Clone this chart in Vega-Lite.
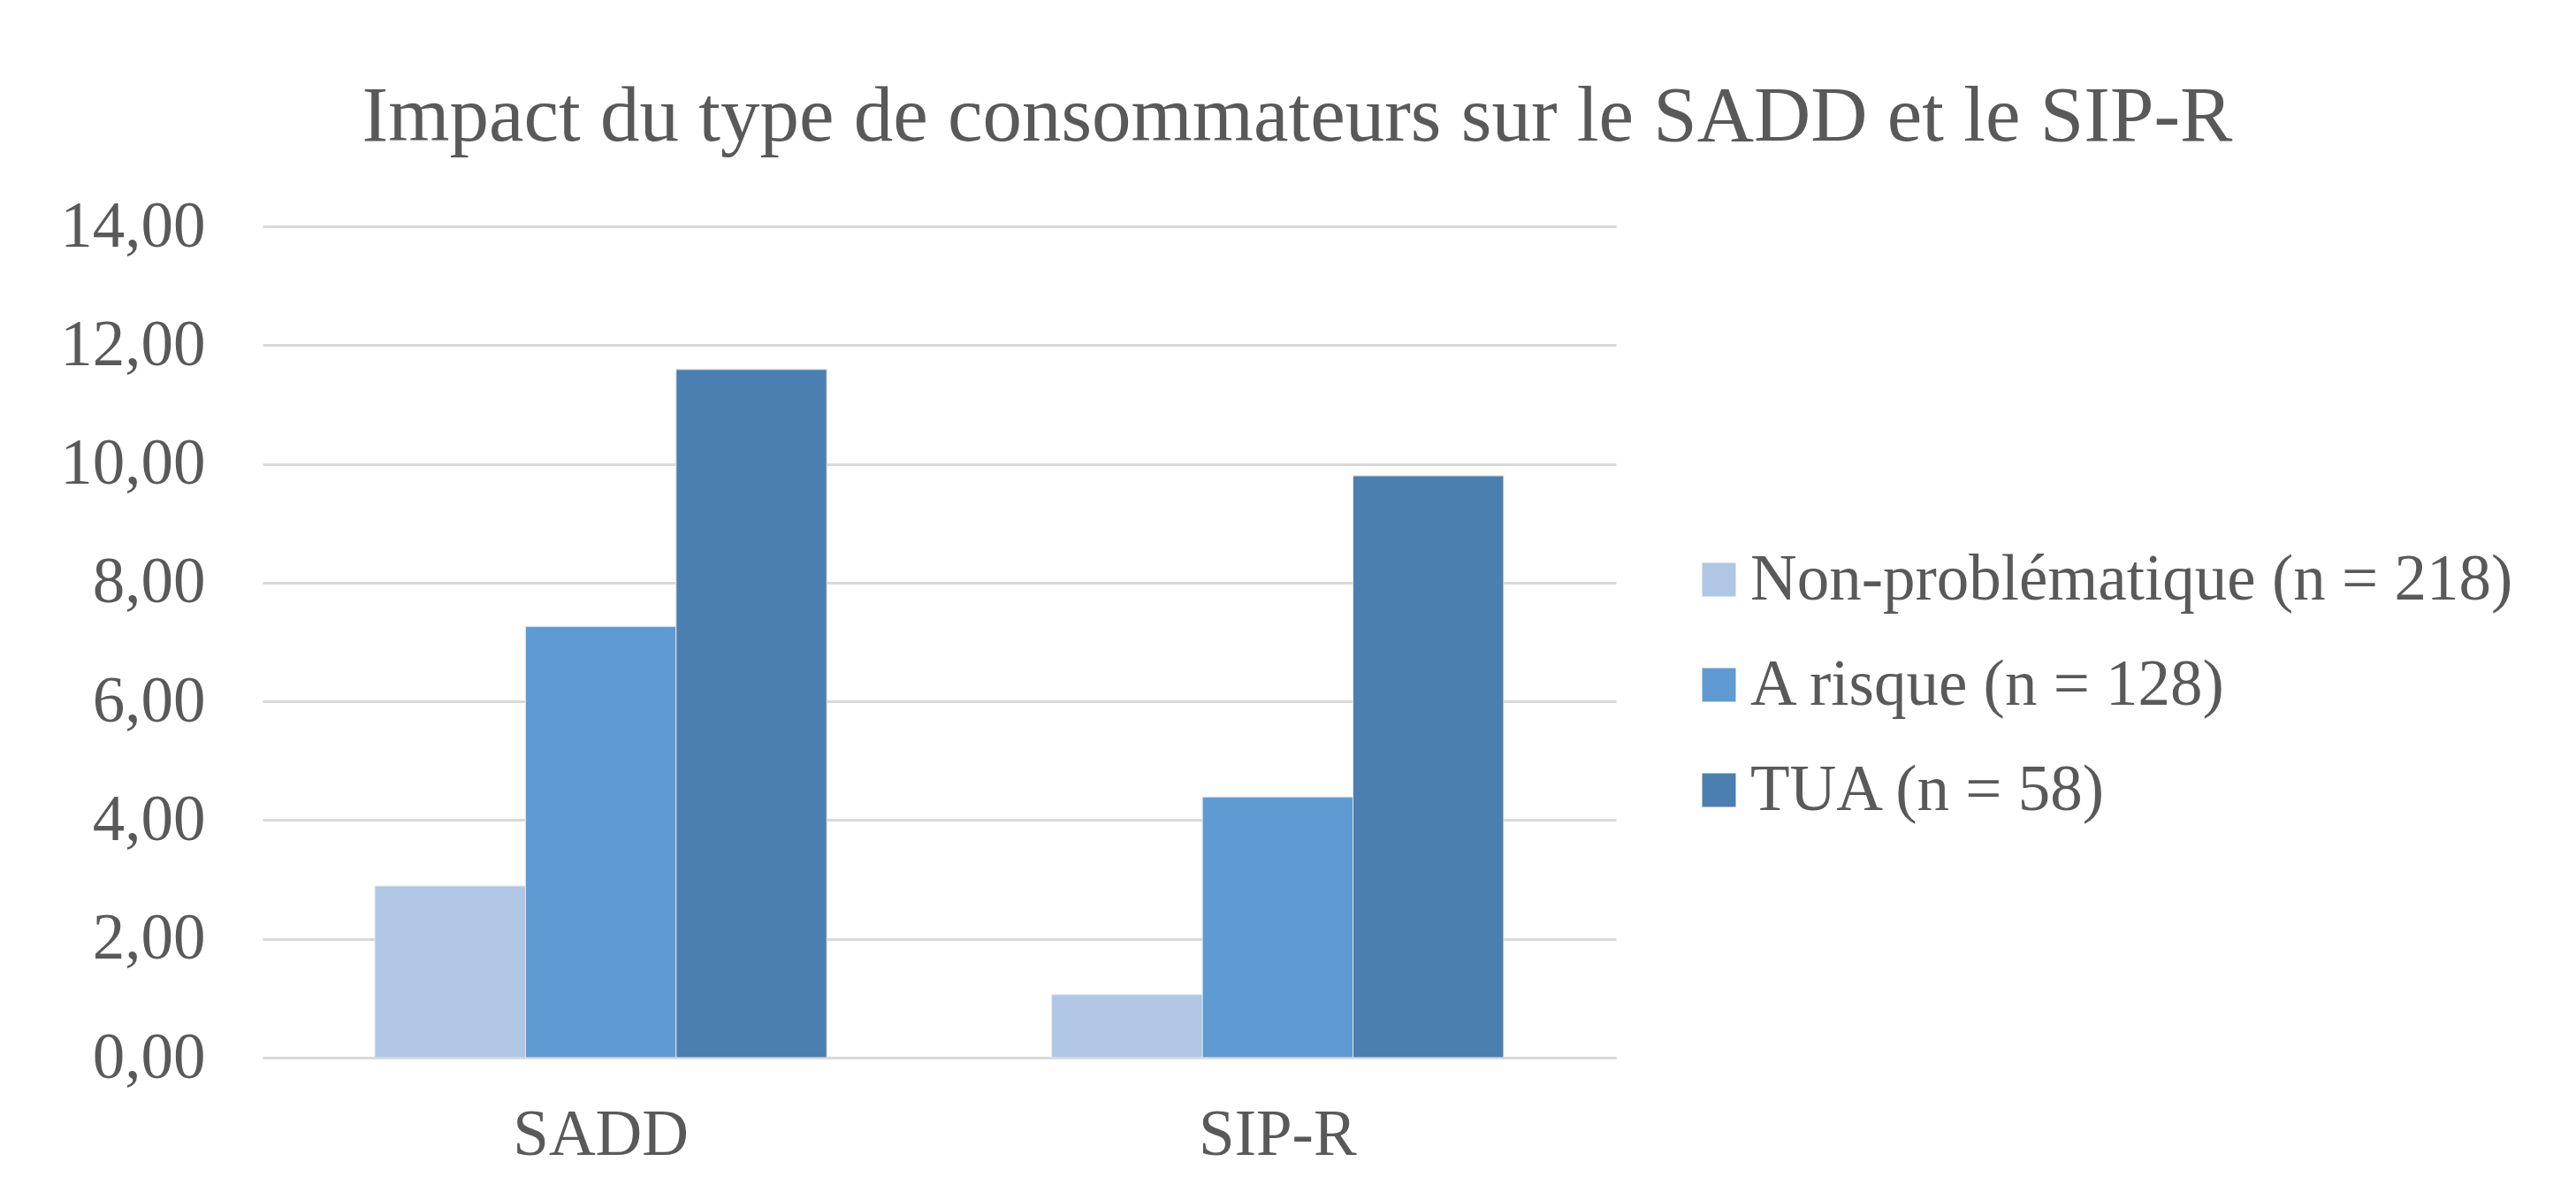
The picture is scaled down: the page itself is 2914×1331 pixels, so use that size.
{
  "$schema": "https://vega.github.io/schema/vega-lite/v6.json",
  "autosize": {"type": "none"},
  "padding": {"left": 297, "top": 256, "right": 1086, "bottom": 135},
  "width": 1531,
  "height": 940,
  "background": "#ffffff",
  "title": {
    "text": "Impact du type de consommateurs sur le SADD et le SIP-R",
    "font": "Liberation Serif",
    "fontSize": 89,
    "fontWeight": "normal",
    "color": "#595959",
    "anchor": "middle",
    "frame": "group",
    "dx": 405,
    "baseline": "alphabetic",
    "offset": -28
  },
  "data": {
    "values": [
      {"echelle": "SADD", "groupe": "Non-problématique (n = 218)", "valeur": 2.89},
      {"echelle": "SADD", "groupe": "A risque (n = 128)", "valeur": 7.26},
      {"echelle": "SADD", "groupe": "TUA (n = 58)", "valeur": 11.59},
      {"echelle": "SIP-R", "groupe": "Non-problématique (n = 218)", "valeur": 1.06},
      {"echelle": "SIP-R", "groupe": "A risque (n = 128)", "valeur": 4.39},
      {"echelle": "SIP-R", "groupe": "TUA (n = 58)", "valeur": 9.80}
    ]
  },
  "mark": {"type": "bar", "stroke": "#dfe5ec", "strokeWidth": 1},
  "encoding": {
    "x": {
      "field": "echelle",
      "type": "nominal",
      "sort": ["SADD", "SIP-R"],
      "scale": {"paddingInner": 0.3325, "paddingOuter": 0.166},
      "axis": {
        "title": null,
        "labelAngle": 0,
        "labelFont": "Liberation Serif",
        "labelFontSize": 73,
        "labelColor": "#595959",
        "labelLimit": 1000,
        "tickSize": 0,
        "ticks": false,
        "labelPadding": 51,
        "domainColor": "#d9d9d9",
        "domainWidth": 3,
        "grid": false
      }
    },
    "xOffset": {
      "field": "groupe",
      "type": "nominal",
      "sort": ["Non-problématique (n = 218)", "A risque (n = 128)", "TUA (n = 58)"],
      "scale": {"paddingInner": 0, "paddingOuter": 0}
    },
    "y": {
      "field": "valeur",
      "type": "quantitative",
      "scale": {"domain": [0, 14], "nice": false, "zero": true},
      "axis": {
        "title": null,
        "values": [0, 2, 4, 6, 8, 10, 12, 14],
        "labelExpr": "replace(format(datum.value, '.2f'), '.', ',')",
        "labelFont": "Liberation Serif",
        "labelFontSize": 73,
        "labelColor": "#595959",
        "tickSize": 0,
        "ticks": false,
        "labelPadding": 65,
        "domain": false,
        "grid": true,
        "gridColor": "#d9d9d9",
        "gridWidth": 3
      }
    },
    "color": {
      "field": "groupe",
      "type": "nominal",
      "scale": {
        "domain": ["Non-problématique (n = 218)", "A risque (n = 128)", "TUA (n = 58)"],
        "range": ["#b0c6e5", "#5f9bd2", "#4b7fb0"]
      },
      "legend": {
        "title": null,
        "orient": "none",
        "legendX": 1611,
        "legendY": 363,
        "padding": 0,
        "symbolType": "square",
        "symbolSize": 1444,
        "symbolStrokeWidth": 0,
        "labelFont": "Liberation Serif",
        "labelFontSize": 73,
        "labelColor": "#595959",
        "labelOffset": -1,
        "labelLimit": 2000,
        "rowPadding": 45,
        "encode": {
          "labels": {
            "update": {
              "dx": {"signal": "datum.value == 'TUA (n = 58)' ? 20 : 0"}
            }
          }
        }
      }
    }
  },
  "config": {
    "view": {"stroke": null}
  }
}
